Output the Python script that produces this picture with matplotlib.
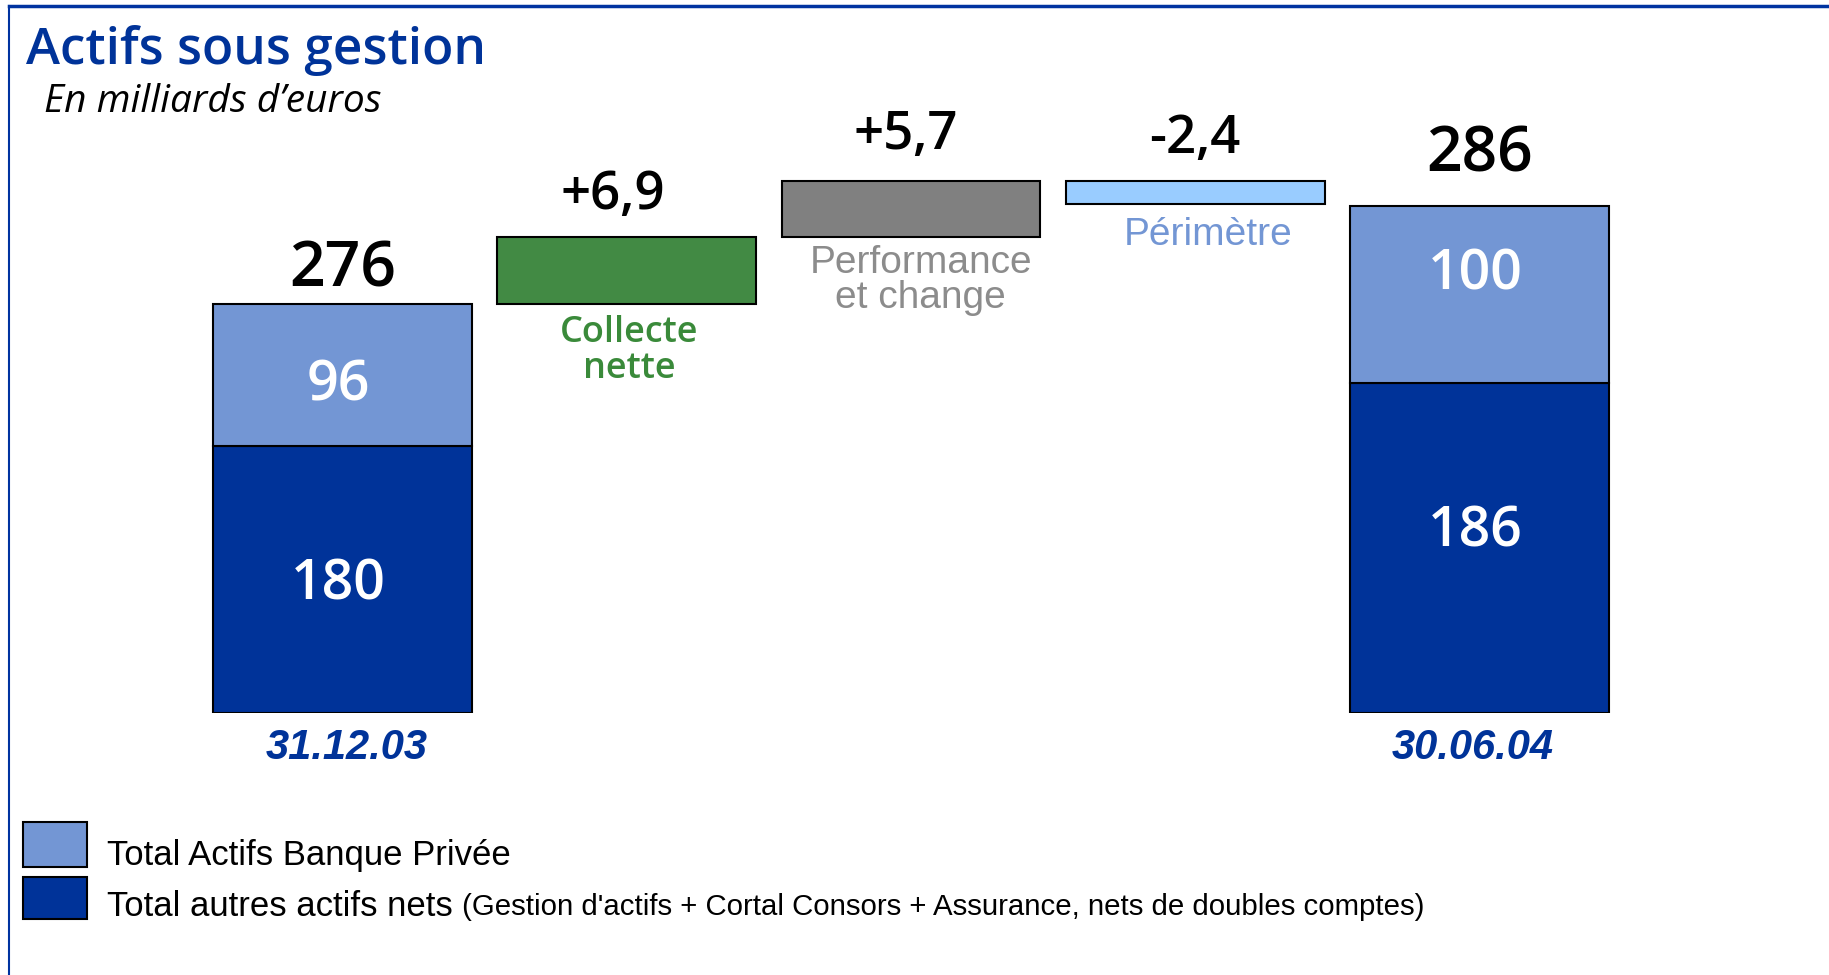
import matplotlib
matplotlib.use("Agg")
import matplotlib.pyplot as plt
from matplotlib.lines import Line2D
from matplotlib.patches import Rectangle

# ---- data ----
dates = ["31.12.03", "30.06.04"]
banque_privee = [96, 100]
autres_actifs = [180, 186]
totals = [276, 286]
step_names = ["Collecte\nnette", "Performance\net change", "Périmètre"]
step_values = [6.9, 5.7, -2.4]
step_labels = ["+6,9", "+5,7", "-2,4"]

# ---- styles ----
BASE = 234.3  # truncated axis baseline
DARK = "#003399"
LIGHT = "#7396D4"
STEP_COLORS = ["#428A44", "#808080", "#99CCFF"]
STEP_TEXT_COLORS = ["#3A8A3A", "#8C8C8C", "#7396D4"]
NUM_FONT = ["Open Sans", "DejaVu Sans"]
ARIAL = ["Liberation Sans", "DejaVu Sans"]

W, H = 1829, 975
fig = plt.figure(figsize=(W / 100, H / 100), dpi=100)
fig.patch.set_facecolor("white")

PXU = 9.8
AX_H = 600
ax = fig.add_axes([200.4 / W, 262 / H, 1421.2 / W, AX_H / H])
ax.set_xlim(-0.5, 4.5)
ax.set_ylim(BASE, BASE + AX_H / PXU)
ax.axis("off")

bw = 0.911
positions_tot = [0, 4]

# stacked total bars
for i, x in enumerate(positions_tot):
    tot = totals[i]
    h_total = tot - BASE
    h_dark = h_total * autres_actifs[i] / tot
    h_light = h_total - h_dark
    ax.bar(x, h_dark, bottom=BASE, width=bw, color=DARK, edgecolor="black", linewidth=1.5)
    ax.bar(x, h_light, bottom=BASE + h_dark, width=bw, color=LIGHT, edgecolor="black", linewidth=1.5)

# floating step bars
level = totals[0]
step_tops = []
step_bottoms = []
for j, v in enumerate(step_values):
    lo, hi = (level, level + v) if v >= 0 else (level + v, level)
    ax.bar(j + 1, hi - lo, bottom=lo, width=bw, color=STEP_COLORS[j], edgecolor="black", linewidth=1.5)
    step_tops.append(hi)
    step_bottoms.append(lo)
    level += v

# value labels above total bars
tot_offsets = [25, 37]  # points above top
for i, x in enumerate(positions_tot):
    ax.annotate(str(totals[i]), (x, totals[i]), xytext=(0, tot_offsets[i]),
                textcoords="offset points", ha="center", va="center",
                fontsize=45, family=NUM_FONT, fontweight="semibold", color="black")

# segment labels
seg_offsets = [(-8, -4), (14, 11)]  # (light, dark) offsets in points
for i, x in enumerate(positions_tot):
    tot = totals[i]
    h_total = tot - BASE
    h_dark = h_total * autres_actifs[i] / tot
    ax.annotate(str(banque_privee[i]), (x, BASE + h_dark + (h_total - h_dark) / 2),
                xytext=(-3, seg_offsets[i][0]), textcoords="offset points",
                ha="center", va="center", fontsize=40, family=NUM_FONT,
                fontweight="semibold", color="white")
    ax.annotate(str(autres_actifs[i]), (x, BASE + h_dark / 2),
                xytext=(-3, seg_offsets[i][1]), textcoords="offset points",
                ha="center", va="center", fontsize=40, family=NUM_FONT,
                fontweight="semibold", color="white")

# step labels
step_top_off = [(-10, 30), (-4, 33), (0, 30)]
step_name_off = [(2, -8), (7, -6), (9, -9)]
for j in range(len(step_values)):
    ax.annotate(step_labels[j], (j + 1, step_tops[j]), xytext=step_top_off[j],
                textcoords="offset points", ha="center", va="center",
                fontsize=38, family=NUM_FONT, fontweight="semibold", color="black")
    fam = NUM_FONT if j == 0 else ARIAL
    ax.annotate(step_names[j], (j + 1, step_bottoms[j]), xytext=step_name_off[j],
                textcoords="offset points", ha="center", va="top",
                fontsize=26 if j == 0 else 28, family=fam,
                fontweight="semibold" if j == 0 else "normal",
                color=STEP_TEXT_COLORS[j], linespacing=1.0 if j == 0 else 0.95)

# date labels
date_dx = [3, -5]
for i, x in enumerate(positions_tot):
    ax.annotate(dates[i], (x, BASE), xytext=(date_dx[i], -25), textcoords="offset points",
                ha="center", va="center", fontsize=30, family=ARIAL,
                fontweight="bold", fontstyle="italic", color=DARK)

# title & subtitle
fig.text(26 / W, 1 - 50 / H, "Actifs sous gestion", fontsize=37, family=NUM_FONT,
         fontweight="semibold", color=DARK, ha="left", va="center")
fig.text(44 / W, 1 - 102 / H, "En milliards d\u2019euros", fontsize=28, family=NUM_FONT,
         fontstyle="italic", color="black", ha="left", va="center")

# legend
fig.patches.append(Rectangle((23 / W, 1 - 867 / H), 64 / W, 45 / H, transform=fig.transFigure,
                             facecolor=LIGHT, edgecolor="black", linewidth=1.5))
fig.patches.append(Rectangle((23 / W, 1 - 919 / H), 64 / W, 42 / H, transform=fig.transFigure,
                             facecolor=DARK, edgecolor="black", linewidth=1.5))
fig.text(107 / W, 1 - 855 / H, "Total Actifs Banque Privée", fontsize=25, family=ARIAL,
         color="black", ha="left", va="center")
t = fig.text(107 / W, 1 - 907 / H, "Total autres actifs nets ", fontsize=25, family=ARIAL,
             color="black", ha="left", va="center")
fig.canvas.draw()
bb = t.get_window_extent()
fig.text(bb.x1 / W, 1 - 907 / H, "(Gestion d'actifs + Cortal Consors + Assurance, nets de doubles comptes)",
         fontsize=21.2, family=ARIAL, color="black", ha="left", va="center")

# frame lines
fig.add_artist(Line2D([9 / W, 1], [1 - 6 / H, 1 - 6 / H], transform=fig.transFigure,
                      color="#0033A0", linewidth=2.5))
fig.add_artist(Line2D([9 / W, 9 / W], [0, 1 - 6 / H], transform=fig.transFigure,
                      color="#0033A0", linewidth=1.5))

fig.savefig("out.png", dpi=100, facecolor="white")
